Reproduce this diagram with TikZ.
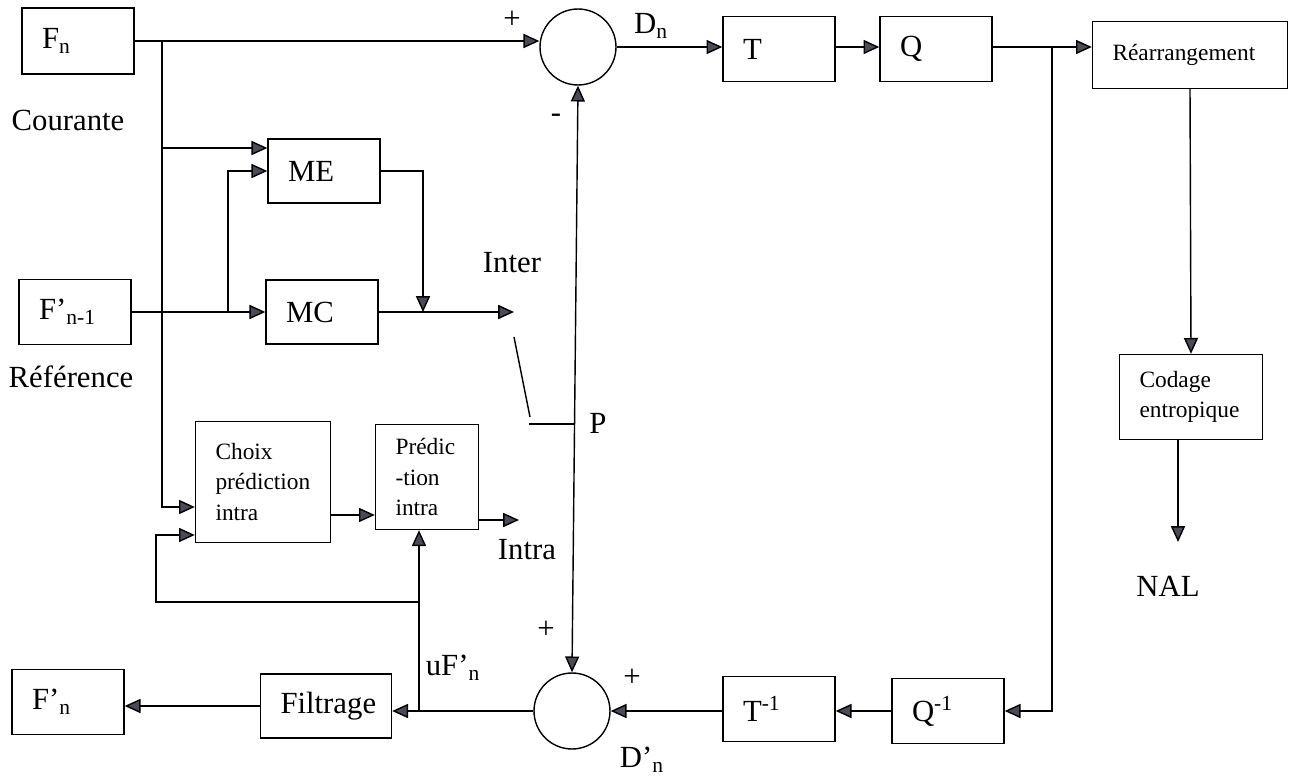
\documentclass[tikz,border=0pt]{standalone}
\usepackage{fontspec}
\setmainfont{Liberation Serif}
\usetikzlibrary{arrows.meta}
\definecolor{tipgray}{HTML}{4B4B55}
\newcommand{\txtbig}{\fontsize{17.5}{21}\selectfont}
\newcommand{\txtsmall}{\fontsize{13.3}{17.5}\selectfont}

\begin{document}
\begin{tikzpicture}[x=0.02cm, y=-0.02cm, line width=0.8pt,
		>={Triangle[length=9pt, width=8pt, fill=tipgray]},
		blk/.style={draw, align=left, inner xsep=0.4cm, inner ysep=0pt, text width=#1, font=\txtbig},
		sblk/.style={blk=#1, font=\txtsmall},
		sum/.style={draw, circle, minimum size=1.52cm, inner sep=0pt},
		lbl/.style={font=\txtbig, inner sep=0pt}
		]
		\useasboundingbox (0,0) rectangle (1298,777);
		
		% Frames
		\node[blk=1.44cm, minimum height=1.32cm] (fn) at (78,41) {F\textsubscript{n}};
		\node[lbl] (cour) at (68,120) {Courante};
		\node[blk=1.44cm, minimum height=1.3cm] (fnm) at (75,312) {F’\textsubscript{n-1}};
		\node[lbl] (ref) at (71,377) {Référence};
		\node[blk=1.44cm, minimum height=1.3cm] (fnp) at (68,702) {F’\textsubscript{n}};
		
		% Inter / intra prediction
		\node[blk=1.44cm, minimum height=1.28cm] (me) at (324,171) {ME};
		\node[blk=1.44cm, minimum height=1.28cm] (mc) at (322,312) {MC};
		\node[sblk=1.9cm, minimum height=2.42cm] (choix) at (263,482) {Choix\\prédiction\\intra};
		\node[sblk=1.26cm, minimum height=2.1cm] (pred) at (427,477) {Prédic\\-tion\\intra};
		\node[blk=1.82cm, minimum height=1.28cm] (filt) at (326,706) {Filtrage};
		
		% Forward path
		\node[sum] (sub1) at (578,47) {};
		\node[blk=1.44cm, minimum height=1.3cm] (t) at (779,49) {T};
		\node[blk=1.44cm, minimum height=1.3cm] (q) at (936,49) {Q};
		\node[sblk=3.1cm, minimum height=1.34cm] (rearr) at (1190,55) {Réarrangement};
		\node[sblk=2.06cm, minimum height=1.7cm] (codage) at (1191,397) {Codage\\entropique};
		\node[lbl] (nal) at (1168,586) {NAL};
		
		% Reconstruction path
		\node[sum] (sub2) at (572,711) {};
		\node[blk=1.44cm, minimum height=1.3cm] (ti) at (779,709) {T\textsuperscript{-1}};
		\node[blk=1.44cm, minimum height=1.3cm] (qi) at (948,711) {Q\textsuperscript{-1}};
		
		% Junctions
		\coordinate (jFn) at (162,41);
		\coordinate (jRef) at (228,312);
		\coordinate (jME) at (423,312);
		\coordinate (swIn) at (514,312);
		\coordinate (swA) at (514,337);
		\coordinate (swB) at (530,417);
		\coordinate (swC) at (529,424);
		\coordinate (jP) at (574.5,424);
		\coordinate (intraTip) at (519,520);
		\coordinate (jQ) at (1052,47);
		\coordinate (nalTip) at (1178,542);
		\coordinate (jU) at (419,711);
		\coordinate (jFb) at (419,602);
		\coordinate (fbCorner) at (156,602);
		
		% Connectors
		\draw[->] (fn.east) -- (fn.east -| sub1.west);
		\draw[->] ([yshift=0.46cm]me.west -| jFn) -- ([yshift=0.46cm]me.west);
		\draw[->] (jFn) |- ([yshift=-0.5cm]choix.west);
		\draw[->] (fnm.east) -- (fnm.east -| mc.west);
		\draw[->] (jRef) |- (me.west);
		\draw[->] (me.east) -| (jME);
		\draw[->] (mc.east) -- (swIn);
		\draw (swA) -- (swB);
		\draw (swC) -- (jP);
		\draw[->] ([yshift=-0.66cm]choix.east) -- ([yshift=-0.66cm]choix.east -| pred.west);
		\draw[->] (pred.east |- intraTip) -- (intraTip);
		\draw[<->] (sub2.north) -- (sub1.south);
		\draw[->] (sub1.east) -- (sub1.east -| t.west);
		\draw[->] (sub1.east -| t.east) -- (sub1.east -| q.west);
		\draw[->] (sub1.east -| q.east) -- (sub1.east -| rearr.west);
		\draw[->] (rearr.south) -- (codage.north);
		\draw[->] (codage.south -| nalTip) -- (nalTip);
		\draw[->] (jQ) |- (qi.east);
		\draw[->] (qi.west) -- (qi.west -| ti.east);
		\draw[->] (qi.west -| ti.west) -- (qi.west -| sub2.east);
		\draw[->] (sub2.west) -- (sub2.west -| filt.east);
		\draw[->] (jU) -- (jU |- pred.south);
		\draw[->] (jFb) -- (fbCorner) |- ([yshift=-1.06cm]choix.west);
		\draw[->] (filt.west) -- (filt.west -| fnp.east);
		
		% Signs and labels
		\node[lbl] (plusA) at (512,20) {+};
		\node[lbl] (minusA) at (556,118) {-};
		\node[lbl] (dn) at (651,26) {D\textsubscript{n}};
		\node[lbl] (inter) at (512,263) {Inter};
		\node[lbl] (plbl) at (598,423) {P};
		\node[lbl] (intra) at (527,550) {Intra};
		\node[lbl] (plusB) at (546,630) {+};
		\node[lbl] (plusC) at (632,678) {+};
		\node[lbl] (dnp) at (642,760) {D’\textsubscript{n}};
		\node[lbl] (ufn) at (453,668) {uF’\textsubscript{n}};
		
	\end{tikzpicture}
\end{document}
